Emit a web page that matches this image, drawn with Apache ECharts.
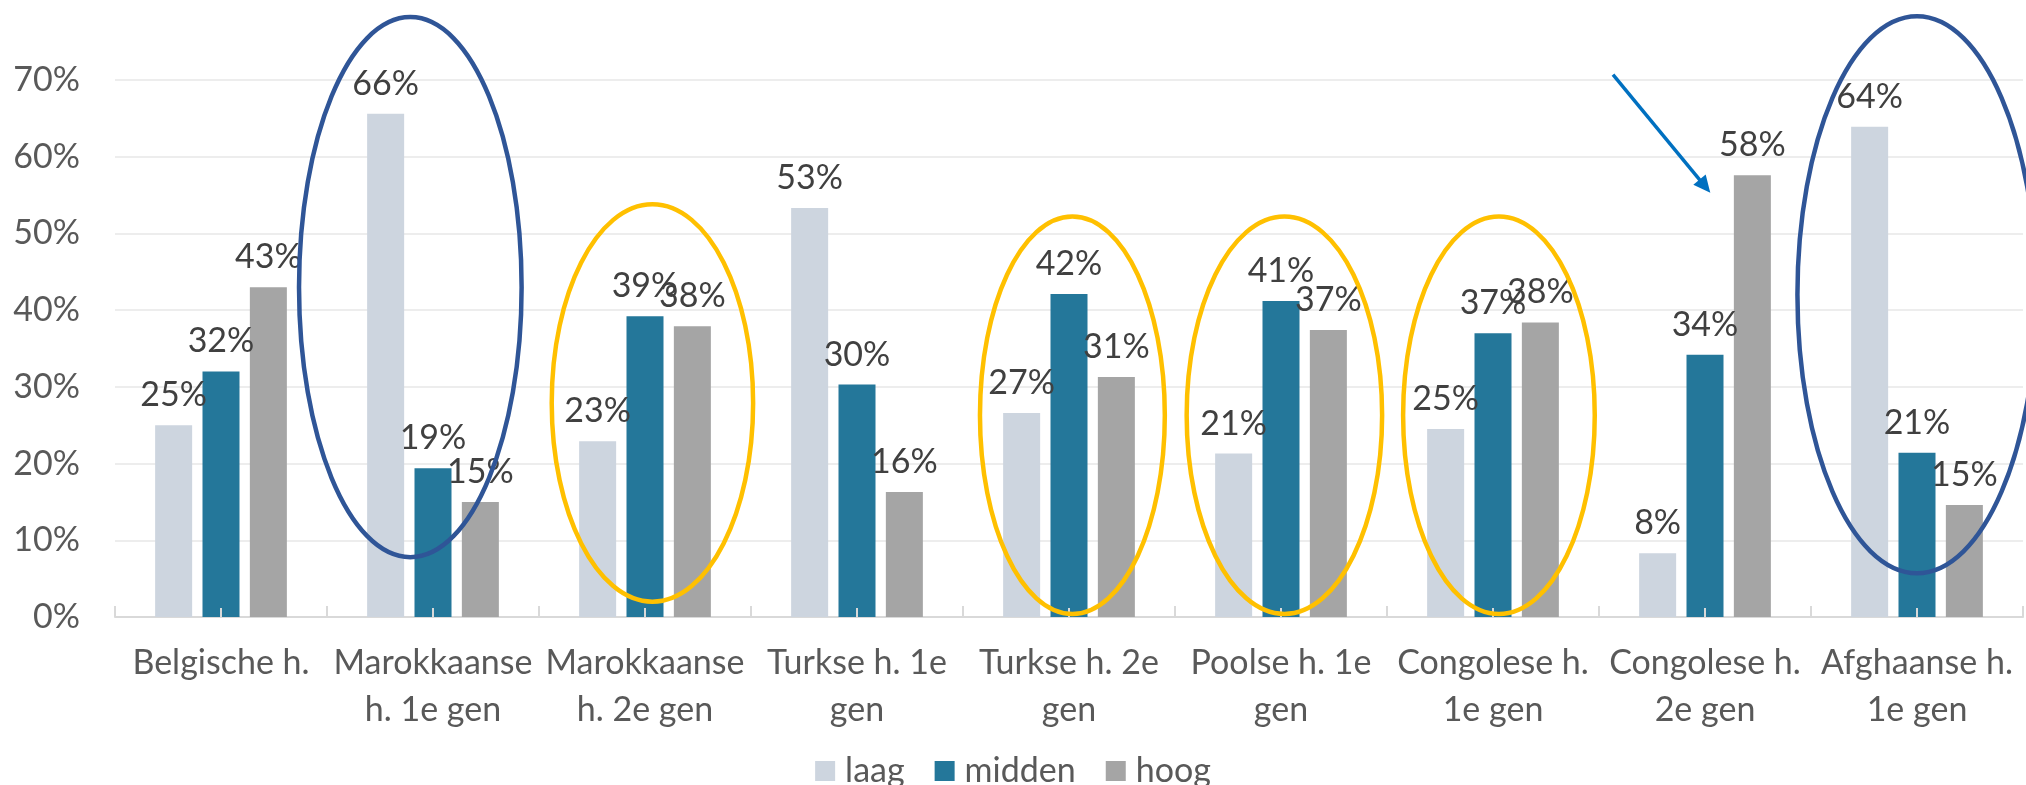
<!DOCTYPE html>
<html>
<head>
<meta charset="utf-8">
<script src="https://cdn.jsdelivr.net/npm/echarts@6/dist/echarts.min.js"></script>
<style>
  html, body { margin: 0; padding: 0; background: #fff; }
  #chart { width: 2026px; height: 785px; }
</style>
</head>
<body>
<div id="chart"></div>
<script>
// categories (line breaks as in the original axis)
const categories = [
  'Belgische h.',
  'Marokkaanse\nh. 1e gen',
  'Marokkaanse\nh. 2e gen',
  'Turkse h. 1e\ngen',
  'Turkse h. 2e\ngen',
  'Poolse h. 1e\ngen',
  'Congolese h.\n1e gen',
  'Congolese h.\n2e gen',
  'Afghaanse h.\n1e gen'
];

// percentages
const laag   = [25.0, 65.6, 22.9, 53.3, 26.6, 21.3, 24.5, 8.3, 63.9];
const midden = [32.0, 19.4, 39.2, 30.3, 42.1, 41.2, 37.0, 34.2, 21.4];
const hoog   = [43.0, 15.0, 37.9, 16.3, 31.3, 37.4, 38.4, 57.6, 14.6];

const yMin = 0;
const yMax = 70;
const yStep = 10;

// hand-drawn highlights: category index, offset (in categories), centre value, radii
const rings = [
  { cat: 1, dx: -0.107, cy: 43.0, rx: 0.525, ry: 35.2, color: '#2F5597' },
  { cat: 2, dx: 0.035, cy: 27.9, rx: 0.475, ry: 25.9, color: '#FFC000' },
  { cat: 4, dx: 0.016, cy: 26.3, rx: 0.436, ry: 25.9, color: '#FFC000' },
  { cat: 5, dx: 0.016, cy: 26.3, rx: 0.461, ry: 25.9, color: '#FFC000' },
  { cat: 6, dx: 0.028, cy: 26.3, rx: 0.452, ry: 25.9, color: '#FFC000' },
  { cat: 8, dx: 0.0, cy: 42.0, rx: 0.564, ry: 36.3, color: '#2F5597' }
];
const arrow = { cat: 7, fromDx: -0.434, fromVal: 70.7, toDx: 0.025, toVal: 55.3, color: '#0070C0' };

const FONT = 'Lato, "Open Sans", sans-serif';
const FS = 34;

const chartDom = document.getElementById('chart');
const myChart = echarts.init(chartDom, null, { renderer: 'canvas' });

function barSeries(name, data, color) {
  return {
    name: name,
    type: 'bar',
    data: data,
    barWidth: 37,
    barGap: '28%',
    itemStyle: { color: color },
    label: {
      show: true,
      position: 'top',
      distance: 13,
      fontFamily: FONT,
      fontSize: FS,
      color: '#404040',
      formatter: (p) => Math.round(p.value) + '%'
    }
  };
}

myChart.setOption({
  animation: false,
  textStyle: { fontFamily: FONT },
  grid: { left: 115, right: 3, top: 80, bottom: 168 },
  legend: {
    data: ['laag', 'midden', 'hoog'],
    left: 'center',
    top: 749,
    icon: 'rect',
    itemWidth: 20,
    itemHeight: 20,
    itemGap: 30,
    textStyle: { fontFamily: FONT, fontSize: FS, color: '#595959', padding: [0, 0, 0, 5] }
  },
  xAxis: [
    {
      type: 'category',
      data: categories,
      axisLine: { lineStyle: { color: '#D9D9D9', width: 2 } },
      axisTick: { show: true, inside: true, length: 11, lineStyle: { color: '#D9D9D9', width: 2 } },
      axisLabel: {
        interval: 0,
        margin: 23,
        fontFamily: FONT,
        fontSize: FS,
        lineHeight: 47,
        color: '#595959'
      }
    },
    {
      type: 'category',
      data: categories,
      position: 'bottom',
      z: 10,
      axisLine: { show: false },
      axisTick: { show: true, inside: true, alignWithLabel: true, length: 9, lineStyle: { color: '#D9D9D9', width: 2 } },
      axisLabel: { show: false }
    }
  ],
  yAxis: {
    type: 'value',
    min: yMin,
    max: yMax,
    interval: yStep,
    axisLine: { show: false },
    axisTick: { show: false },
    splitLine: { lineStyle: { color: '#EDEDED', width: 2 } },
    axisLabel: {
      margin: 35,
      fontFamily: FONT,
      fontSize: FS,
      color: '#595959',
      formatter: '{value}%'
    }
  },
  series: [
    barSeries('laag', laag, '#CDD5DF'),
    barSeries('midden', midden, '#24779A'),
    barSeries('hoog', hoog, '#A5A5A5')
  ]
});

// annotations, placed through the chart's own scales
const x0 = myChart.convertToPixel({ xAxisIndex: 0 }, 0);
const band = myChart.convertToPixel({ xAxisIndex: 0 }, 1) - x0;
const yZero = myChart.convertToPixel({ yAxisIndex: 0 }, 0);
const unit = yZero - myChart.convertToPixel({ yAxisIndex: 0 }, 1);

function pos(cat, dx, val) {
  return [
    myChart.convertToPixel({ xAxisIndex: 0 }, cat) + dx * band,
    myChart.convertToPixel({ yAxisIndex: 0 }, val)
  ];
}

const graphics = rings.map((r) => {
  const c = pos(r.cat, r.dx, r.cy);
  return {
    type: 'ellipse',
    z: 100,
    shape: { cx: c[0], cy: c[1], rx: r.rx * band, ry: r.ry * unit },
    style: { fill: 'none', stroke: r.color, lineWidth: 4.5 }
  };
});

const a0 = pos(arrow.cat, arrow.fromDx, arrow.fromVal);
const a1 = pos(arrow.cat, arrow.toDx, arrow.toVal);
const len = Math.hypot(a1[0] - a0[0], a1[1] - a0[1]);
const ux = (a1[0] - a0[0]) / len;
const uy = (a1[1] - a0[1]) / len;
const headLen = 17;
const headHalf = 8;
const base = [a1[0] - ux * headLen, a1[1] - uy * headLen];

graphics.push({
  type: 'line',
  z: 100,
  shape: { x1: a0[0], y1: a0[1], x2: base[0] + ux * 2, y2: base[1] + uy * 2 },
  style: { stroke: arrow.color, lineWidth: 3.5 }
});
graphics.push({
  type: 'polygon',
  z: 100,
  shape: {
    points: [
      a1,
      [base[0] - uy * headHalf, base[1] + ux * headHalf],
      [base[0] + uy * headHalf, base[1] - ux * headHalf]
    ]
  },
  style: { fill: arrow.color }
});

myChart.setOption({ graphic: graphics });
</script>
</body>
</html>
